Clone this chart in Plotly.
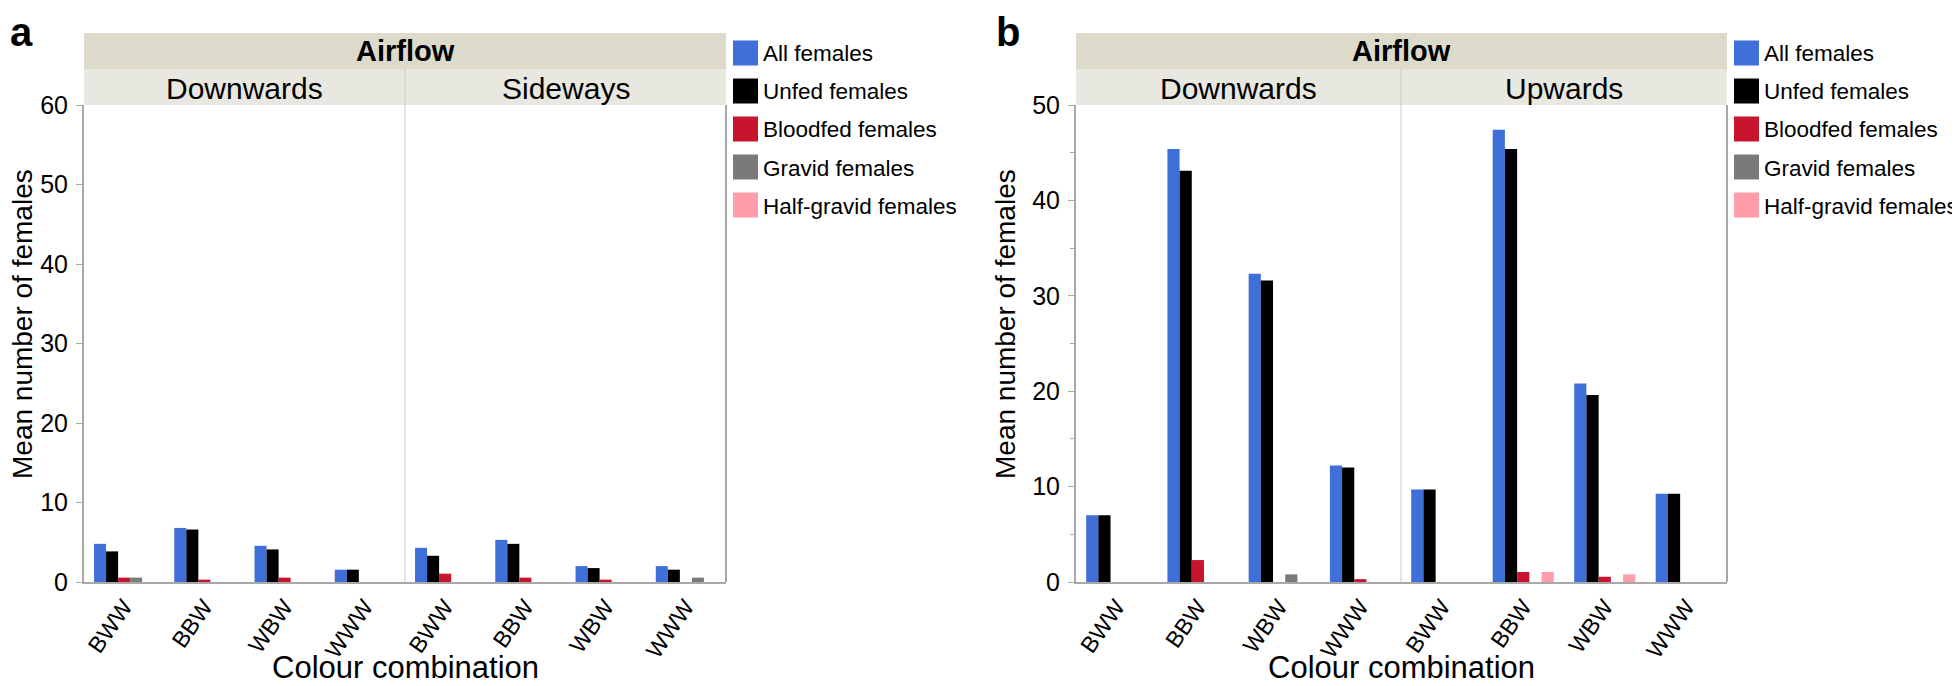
import plotly.graph_objects as go

# page pixels; the browser body adds an 8 px margin, so the figure is sized to fit inside it
PAGE_W, PAGE_H, OFF = 1960, 686, 8
W, H = PAGE_W - OFF, PAGE_H - OFF

combos = ["BWW", "BBW", "WBW", "WWW"]
series = ["All females", "Unfed females", "Bloodfed females", "Gravid females", "Half-gravid females"]
colors = ["#3F6FD9", "#000000", "#C8142C", "#7A7A7A", "#FF9DAA"]

# Panel a: Downwards / Sideways
a_down_all = [4.8, 6.8, 4.55, 1.55]
a_down_unfed = [3.85, 6.6, 4.1, 1.55]
a_down_blood = [0.55, 0.3, 0.55, 0.0]
a_down_gravid = [0.55, 0.0, 0.0, 0.0]
a_down_half = [0.0, 0.0, 0.0, 0.0]

a_side_all = [4.3, 5.3, 2.0, 2.0]
a_side_unfed = [3.3, 4.8, 1.75, 1.55]
a_side_blood = [1.05, 0.55, 0.3, 0.0]
a_side_gravid = [0.0, 0.0, 0.0, 0.55]
a_side_half = [0.0, 0.0, 0.0, 0.0]

# Panel b: Downwards / Upwards
b_down_all = [7.0, 45.4, 32.3, 12.2]
b_down_unfed = [7.0, 43.1, 31.6, 12.0]
b_down_blood = [0.0, 2.3, 0.0, 0.3]
b_down_gravid = [0.0, 0.0, 0.8, 0.0]
b_down_half = [0.0, 0.0, 0.0, 0.0]

b_up_all = [9.7, 47.4, 20.8, 9.25]
b_up_unfed = [9.7, 45.4, 19.6, 9.25]
b_up_blood = [0.0, 1.05, 0.55, 0.0]
b_up_gravid = [0.0, 0.0, 0.0, 0.0]
b_up_half = [0.0, 1.05, 0.8, 0.0]

facets = [
    ("x", "y", [a_down_all, a_down_unfed, a_down_blood, a_down_gravid, a_down_half]),
    ("x2", "y", [a_side_all, a_side_unfed, a_side_blood, a_side_gravid, a_side_half]),
    ("x3", "y2", [b_down_all, b_down_unfed, b_down_blood, b_down_gravid, b_down_half]),
    ("x4", "y2", [b_up_all, b_up_unfed, b_up_blood, b_up_gravid, b_up_half]),
]

fig = go.Figure()
for xa, ya, vals in facets:
    for name, col, v in zip(series, colors, vals):
        fig.add_trace(go.Bar(x=combos, y=v, name=name, marker=dict(color=col, line=dict(width=0)),
                             xaxis=xa, yaxis=ya, showlegend=False))

def px(x):
    return (x - OFF) / W

def py(y):
    return 1 - (y - OFF) / H

# panel geometry in page pixels
A_L, A_M, A_R = 84, 405, 726
B_L, B_M, B_R = 1076, 1401, 1727
TOP_H, MID_H, P_TOP, P_BOT = 33, 69, 105, 582

font = "Liberation Sans, Arial, Helvetica, sans-serif"
ydom = [py(P_BOT), py(P_TOP)]

xcommon = dict(type="category", showline=True, linecolor="#A8A8A8", linewidth=2, ticks="",
               tickangle=-55, tickfont=dict(size=23, color="#000", family=font), automargin=False,
               showgrid=False, zeroline=False, fixedrange=True)
ycommon = dict(showline=True, linecolor="#A8A8A8", linewidth=2, ticks="outside", ticklen=6,
               tickcolor="#A8A8A8", tickwidth=1, tickfont=dict(size=25, color="#000", family=font),
               ticklabelstandoff=3, automargin=False, showgrid=False, zeroline=False, domain=ydom)

fig.update_layout(
    xaxis=dict(domain=[px(A_L), px(A_M)], anchor="y", **xcommon),
    xaxis2=dict(domain=[px(A_M), px(A_R)], anchor="y", **xcommon),
    xaxis3=dict(domain=[px(B_L), px(B_M)], anchor="y2", **xcommon),
    xaxis4=dict(domain=[px(B_M), px(B_R)], anchor="y2", **xcommon),
    yaxis=dict(anchor="x", range=[0, 60], tickvals=[0, 10, 20, 30, 40, 50, 60], **ycommon),
    yaxis2=dict(anchor="x3", range=[0, 50], tickvals=[0, 10, 20, 30, 40, 50],
                minor=dict(tickvals=[5, 15, 25, 35, 45], ticks="outside", ticklen=4, tickcolor="#A8A8A8"),
                **ycommon),
    barmode="group", bargap=0.25, bargroupgap=0.0,
    width=W, height=H, margin=dict(l=0, r=0, t=0, b=0, pad=0, autoexpand=False),
    paper_bgcolor="white", plot_bgcolor="white", showlegend=False,
    font=dict(family=font, color="#000"),
)

shapes = []
annots = []
for (L, M, R, sub1, sub2, lab, labx, ytx) in [
    (A_L, A_M, A_R, "Downwards", "Sideways", "a", 8, A_L - 62),
    (B_L, B_M, B_R, "Downwards", "Upwards", "b", 994, B_L - 71),
]:
    shapes.append(dict(type="rect", xref="paper", yref="paper", x0=px(L), x1=px(R), y0=py(MID_H), y1=py(TOP_H),
                       fillcolor="#DCDACB", line=dict(width=0), layer="below"))
    shapes.append(dict(type="rect", xref="paper", yref="paper", x0=px(L), x1=px(R), y0=py(P_TOP), y1=py(MID_H),
                       fillcolor="#E8E7E0", line=dict(width=0), layer="below"))
    shapes.append(dict(type="line", xref="paper", yref="paper", x0=px(M), x1=px(M), y0=py(P_TOP), y1=py(MID_H),
                       line=dict(color="#D6D4C6", width=1.5)))
    shapes.append(dict(type="line", xref="paper", yref="paper", x0=px(M), x1=px(M), y0=py(P_BOT), y1=py(P_TOP),
                       line=dict(color="#DDDDDD", width=1.5)))
    shapes.append(dict(type="line", xref="paper", yref="paper", x0=px(R), x1=px(R), y0=py(P_BOT), y1=py(P_TOP),
                       line=dict(color="#A8A8A8", width=2)))
    annots.append(dict(text="<b>Airflow</b>", x=px((L + R) / 2), y=py((TOP_H + MID_H) / 2), xref="paper", yref="paper",
                       showarrow=False, font=dict(size=29, color="#000"), xanchor="center", yanchor="middle"))
    annots.append(dict(text=sub1, x=px((L + M) / 2), y=py((MID_H + P_TOP) / 2 + 1), xref="paper", yref="paper",
                       showarrow=False, font=dict(size=30, color="#000"), xanchor="center", yanchor="middle"))
    annots.append(dict(text=sub2, x=px((M + R) / 2), y=py((MID_H + P_TOP) / 2 + 1), xref="paper", yref="paper",
                       showarrow=False, font=dict(size=30, color="#000"), xanchor="center", yanchor="middle"))
    annots.append(dict(text="<b>" + lab + "</b>", x=px(labx), y=1.0, xref="paper", yref="paper",
                       showarrow=False, font=dict(size=40, color="#000"), xanchor="left", yanchor="top"))
    # axis titles
    annots.append(dict(text="Colour combination", x=px((L + R) / 2), y=py(667), xref="paper", yref="paper",
                       showarrow=False, font=dict(size=31, color="#000"), xanchor="center", yanchor="middle"))
    annots.append(dict(text="Mean number of females", x=px(ytx), y=py(324), xref="paper",
                       yref="paper", showarrow=False, textangle=-90, font=dict(size=28, color="#000"),
                       xanchor="center", yanchor="middle"))
    # legend
    sq_x = R + 7
    for i, (name, col) in enumerate(zip(series, colors)):
        cy = 53 + 38 * i
        shapes.append(dict(type="rect", xref="paper", yref="paper", x0=px(sq_x), x1=px(sq_x + 25),
                           y0=py(cy + 12.5), y1=py(cy - 12.5), fillcolor=col, line=dict(width=0)))
        annots.append(dict(text=name, x=px(sq_x + 28), y=py(cy + 1), xref="paper", yref="paper", showarrow=False,
                           font=dict(size=22.5, color="#000"), xanchor="left", yanchor="middle"))

fig.update_layout(shapes=shapes, annotations=annots)
fig.write_html("out.html")
